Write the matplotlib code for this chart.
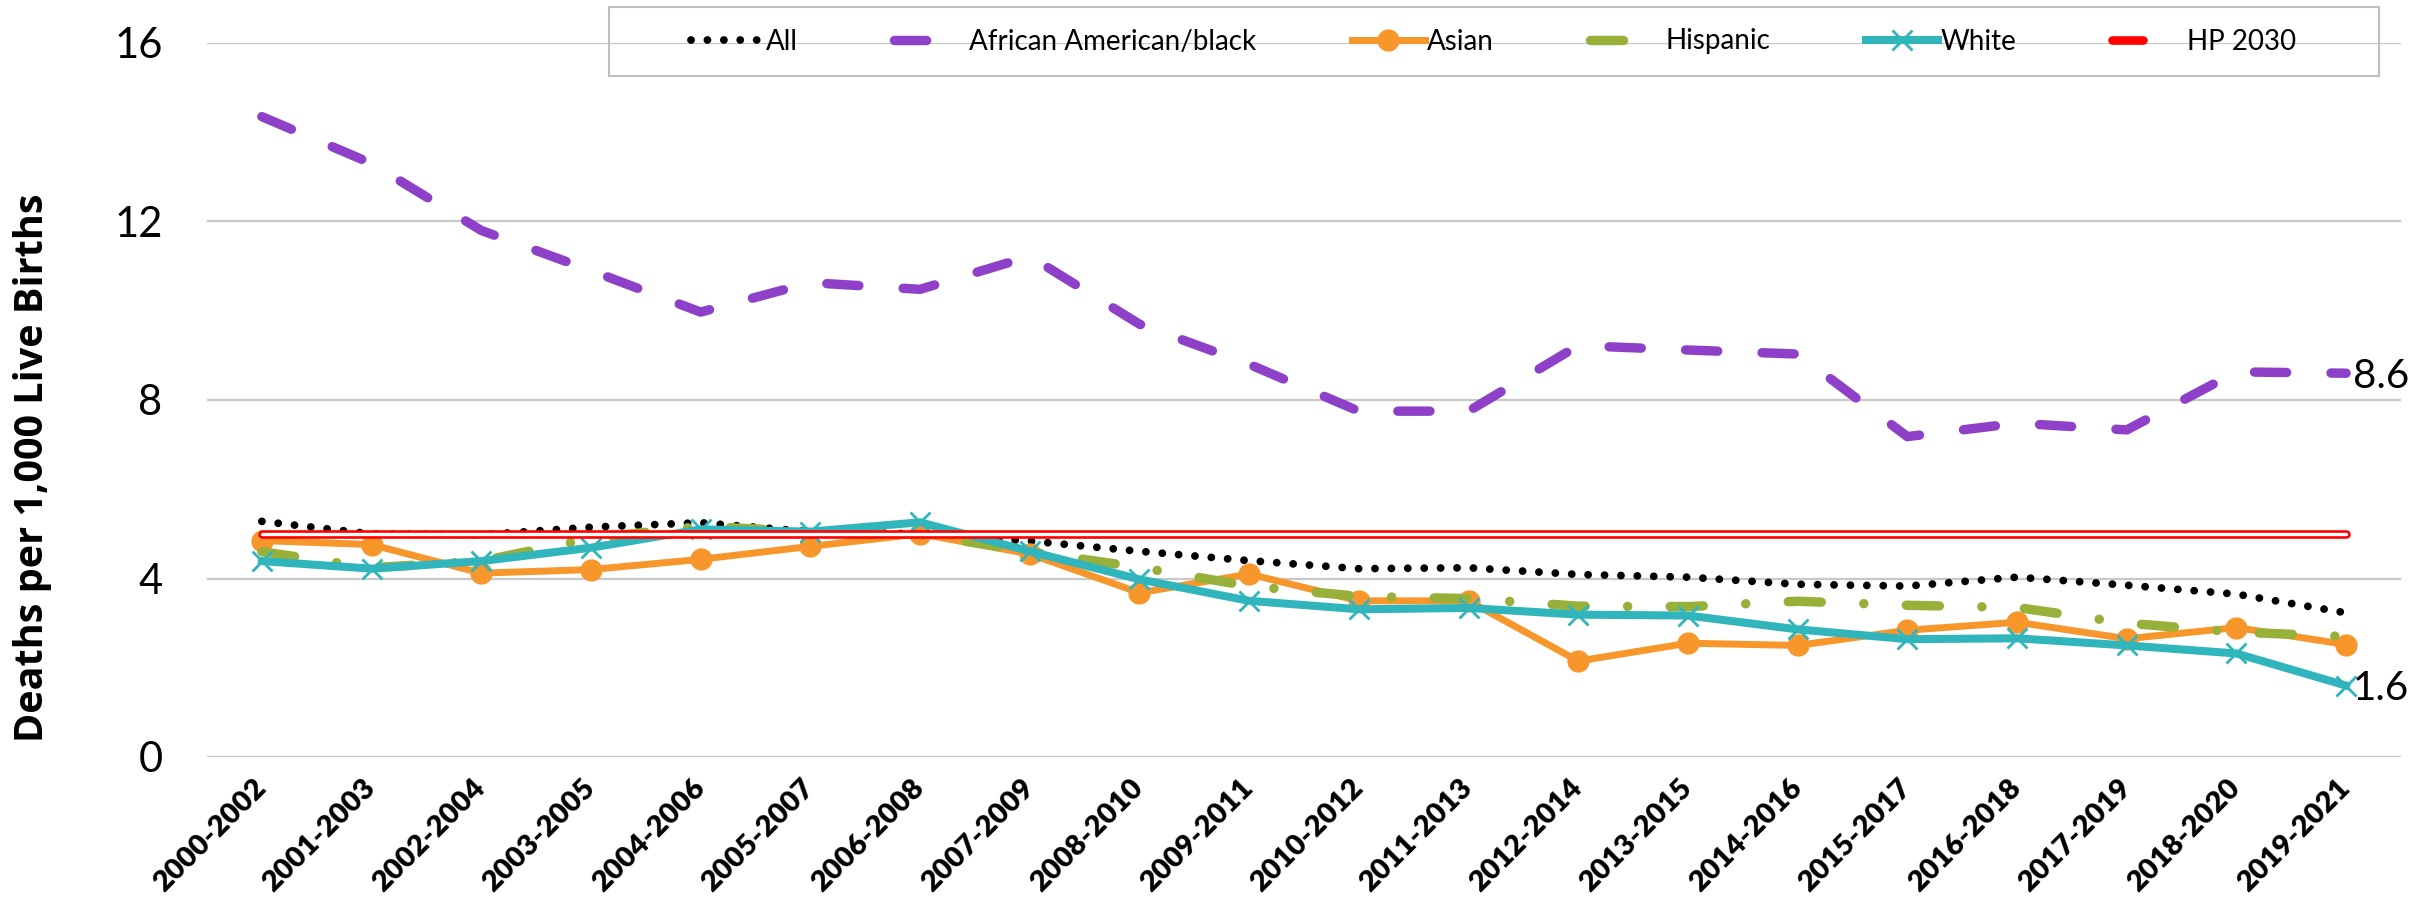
import matplotlib
matplotlib.use("Agg")
import matplotlib.pyplot as plt
from matplotlib.patches import Rectangle
from matplotlib.legend_handler import HandlerTuple

plt.rcParams["font.family"] = ["Lato", "DejaVu Sans"]

periods = [
    "2000-2002", "2001-2003", "2002-2004", "2003-2005", "2004-2006",
    "2005-2007", "2006-2008", "2007-2009", "2008-2010", "2009-2011",
    "2010-2012", "2011-2013", "2012-2014", "2013-2015", "2014-2016",
    "2015-2017", "2016-2018", "2017-2019", "2018-2020", "2019-2021",
]
all_races = [5.28, 5.0, 4.98, 5.15, 5.25, 5.05, 5.0, 4.84, 4.61, 4.4,
             4.22, 4.24, 4.09, 4.03, 3.87, 3.83, 4.03, 3.85, 3.65, 3.23]
black = [14.35, 13.3, 11.8, 10.9, 9.97, 10.63, 10.48, 11.22, 9.7, 8.8,
         7.75, 7.75, 9.22, 9.12, 9.03, 7.18, 7.48, 7.33, 8.63, 8.6]
asian = [4.85, 4.76, 4.12, 4.2, 4.43, 4.72, 5.0, 4.55, 3.68, 4.1,
         3.5, 3.5, 2.15, 2.55, 2.5, 2.84, 3.02, 2.65, 2.9, 2.52]
hispanic = [4.6, 4.24, 4.39, 4.9, 5.17, 5.05, 5.0, 4.6, 4.25, 3.83,
            3.6, 3.55, 3.38, 3.37, 3.49, 3.4, 3.35, 3.0, 2.8, 2.7]
white = [4.39, 4.22, 4.39, 4.69, 5.1, 5.05, 5.26, 4.61, 3.98, 3.5,
         3.31, 3.34, 3.19, 3.17, 2.86, 2.64, 2.66, 2.5, 2.32, 1.6]
hp2030 = [5.0] * 20

PURPLE = "#8e41c8"
ORANGE = "#f7962a"
GREEN = "#97b03a"
TEAL = "#31b5bc"
RED = "#ff0000"

fig = plt.figure(figsize=(24.36, 9.01), dpi=100)
ax = fig.add_axes([207 / 2436, 144 / 901, 2194 / 2436, 714 / 901])
x = list(range(len(periods)))

h_all, = ax.plot(x, all_races, color="black", lw=5.6,
                 linestyle=(0, (0.01, 2.1)), dash_capstyle="round")
h_black, = ax.plot(x, black, color=PURPLE, lw=6.8,
                   linestyle=(0, (3.4, 4.7)), dash_capstyle="round")
h_asian, = ax.plot(x, asian, color=ORANGE, lw=5, marker="o", ms=15,
                   mec=ORANGE, mfc=ORANGE)
h_hisp, = ax.plot(x, hispanic, color=GREEN, lw=6.8,
                  linestyle=(0, (3.5, 4.5, 0.01, 4.5)), dash_capstyle="round")
h_white, = ax.plot(x, white, color=TEAL, lw=5.8, marker="x", ms=14,
                   mew=2, mec=TEAL)
h_hp_out, = ax.plot(x, hp2030, color=RED, lw=6.2, solid_capstyle="round")
h_hp_in, = ax.plot(x, hp2030, color="white", lw=2.4, solid_capstyle="round")

ax.annotate(f"{black[-1]:.1f}", xy=(x[-1], black[-1]), xytext=(5, -2),
            textcoords="offset points", ha="left", va="center", fontsize=29)
ax.annotate(f"{white[-1]:.1f}", xy=(x[-1], white[-1]), xytext=(5, -2),
            textcoords="offset points", ha="left", va="center", fontsize=29)

ax.set_xlim(-0.5, len(periods) - 0.5)
ax.set_ylim(0, 16)
ax.set_yticks([0, 4, 8, 12, 16])
ax.set_xticks(x)
ax.set_xticklabels(periods, fontsize=21, fontweight="heavy")
for lbl in ax.get_xticklabels():
    lbl.set_rotation(45)
    lbl.set_rotation_mode("anchor")
    lbl.set_ha("right")
    lbl.set_va("center")
ax.tick_params(axis="y", length=0, labelsize=30, pad=32)
ax.tick_params(axis="x", length=0, pad=19)
ax.yaxis.grid(True, color="#c8c8c8", lw=1.6)
ax.set_axisbelow(True)
for s in ax.spines.values():
    s.set_visible(False)

fig.text(33 / 2436, 1 - 468 / 901, "Deaths per 1,000 Live Births",
         rotation=90, ha="center", va="center", fontsize=28.5,
         fontweight="bold", family=["Open Sans", "DejaVu Sans"])

# legend box drawn by hand so the padding matches
fig.add_artist(Rectangle((609 / 2436, 1 - 76 / 901), 1770 / 2436, 69 / 901,
                         transform=fig.transFigure, fill=False,
                         edgecolor="#bfbfbf", lw=1.5))
fig.legend(
    [h_all, h_black, h_asian, h_hisp, h_white, (h_hp_out, h_hp_in)],
    ["All", "African American/black", "Asian", "Hispanic", "White", "HP 2030"],
    handler_map={tuple: HandlerTuple(ndivide=None)},
    loc="center", bbox_to_anchor=(1494 / 2436, 1 - 41.5 / 901),
    ncol=6, frameon=False, fontsize=20, handlelength=2.6,
    handletextpad=0.1, columnspacing=3.45, numpoints=1,
)

fig.savefig("out.png", dpi=100)
